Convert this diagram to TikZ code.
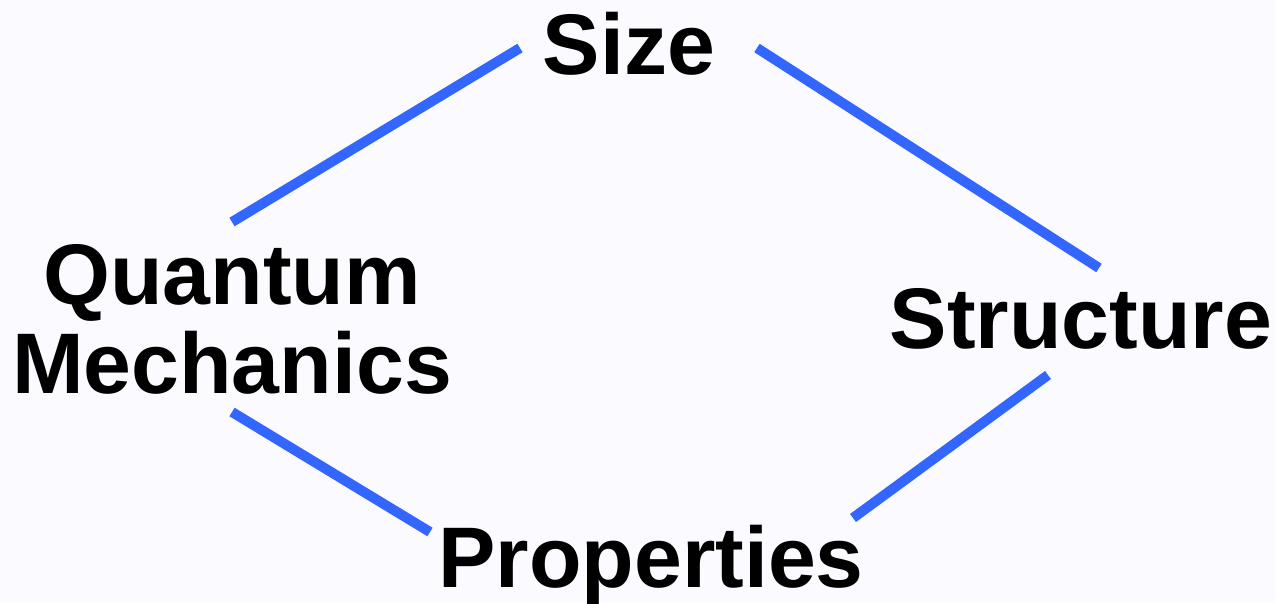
\documentclass[tikz,border=0pt]{standalone}
\usepackage{fontspec}
\setmainfont{Liberation Sans}
\definecolor{bg}{HTML}{FBFAFF}
\definecolor{lineblue}{HTML}{3366FF}
\begin{document}
\begin{tikzpicture}[x=1pt,y=-1pt,
  lbl/.style={font=\fontsize{86}{89}\selectfont\bfseries, inner sep=0pt, anchor=base, align=center},
  conn/.style={draw=lineblue, line width=10pt, line cap=butt}]
\fill[bg] (0,0) rectangle (1275,603);
\useasboundingbox (0,0) rectangle (1275,603);
\node[lbl] (size) at (629,74) {Size};
\node[lbl] (qm) at (232,393) {Quantum\\Mechanics};
\node[lbl] (struct) at (1081,348) {Structure};
\node[lbl] (prop) at (651,587) {Properties};
\coordinate (qmTop) at (232,222);
\coordinate (sizeL) at (520,48);
\coordinate (sizeR) at (757,48);
\coordinate (structTop) at (1099,268);
\coordinate (qmBot) at (232,412);
\coordinate (propL) at (430,532);
\coordinate (propR) at (853,518);
\coordinate (structBot) at (1048,375);
\draw[conn] (qmTop) -- (sizeL);
\draw[conn] (sizeR) -- (structTop);
\draw[conn] (qmBot) -- (propL);
\draw[conn] (propR) -- (structBot);
\end{tikzpicture}
\end{document}
